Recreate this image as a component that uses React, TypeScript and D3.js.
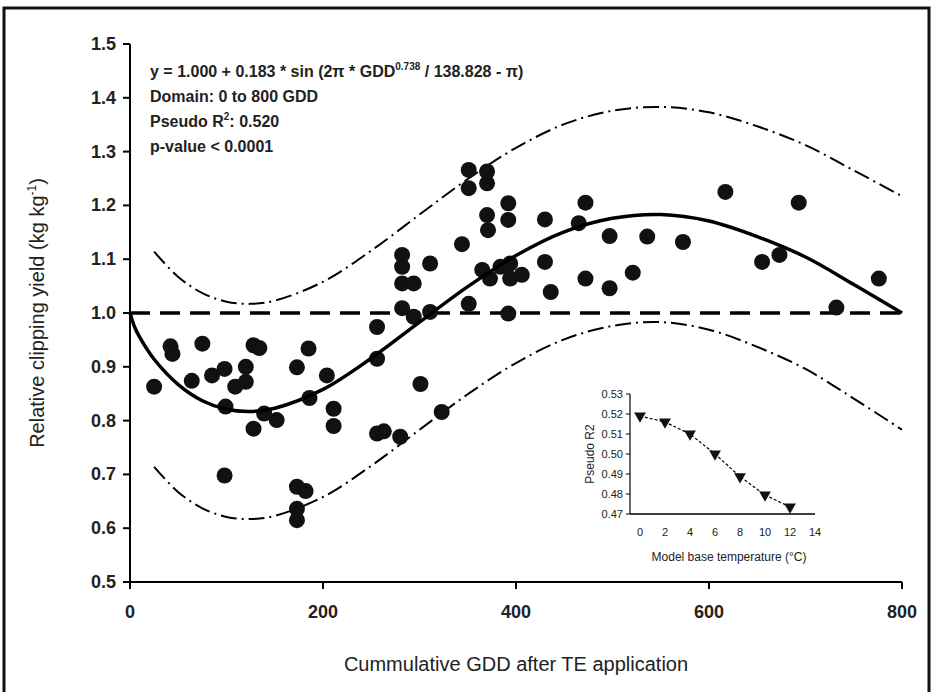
import React from "react";
import * as d3 from "d3";

// Scatter observations (GDD, relative clipping yield)
const obsGDD = [
  42, 44, 75, 128, 134, 185, 25, 64, 85, 98, 120, 109, 120, 173, 99, 128, 139, 152, 186, 204,
  256, 301, 211, 211, 256, 263, 280, 98, 173, 182, 173, 173, 323,
  282, 282, 282, 294, 311, 282, 294, 311, 256,
  351, 370, 351, 370, 392, 392, 370, 371, 430, 472, 344, 365, 384, 394, 394, 373, 406, 430,
  465, 497, 536, 573, 617, 693, 655, 673, 776, 732, 436, 472, 497, 521, 351, 392,
];
const obsYield = [
  0.938, 0.924, 0.943, 0.940, 0.935, 0.934, 0.863, 0.874, 0.884, 0.896, 0.900, 0.863, 0.872, 0.899, 0.826, 0.785, 0.813, 0.801, 0.842, 0.884,
  0.915, 0.868, 0.822, 0.790, 0.776, 0.780, 0.770, 0.698, 0.677, 0.669, 0.636, 0.615, 0.816,
  1.108, 1.086, 1.055, 1.055, 1.092, 1.009, 0.993, 1.002, 0.974,
  1.266, 1.263, 1.232, 1.241, 1.204, 1.173, 1.182, 1.154, 1.174, 1.205, 1.128, 1.080, 1.086, 1.092, 1.064, 1.064, 1.071, 1.095,
  1.167, 1.143, 1.142, 1.132, 1.225, 1.205, 1.095, 1.108, 1.064, 1.010, 1.039, 1.064, 1.046, 1.075, 1.017, 0.999,
];

// Fitted curve
const fitGDD = [0, 5, 10, 25, 50, 75, 100, 125, 150, 200, 250, 300, 350, 400, 450, 500, 550, 600, 650, 700, 750, 800];
const fitYield = [1.0, 0.973, 0.955, 0.914, 0.867, 0.837, 0.821, 0.817, 0.823, 0.858, 0.916, 0.983, 1.049, 1.107, 1.151, 1.176, 1.183, 1.171, 1.142, 1.104, 1.053, 1.0];

// Prediction bands
const bandGDD = [25, 50, 75, 100, 125, 150, 200, 250, 300, 350, 400, 450, 500, 550, 600, 650, 700, 750, 800];
const bandUpper = [1.114, 1.067, 1.037, 1.021, 1.017, 1.023, 1.058, 1.116, 1.183, 1.249, 1.307, 1.351, 1.376, 1.383, 1.373, 1.347, 1.312, 1.265, 1.217];
const bandLower = [0.714, 0.667, 0.637, 0.621, 0.617, 0.623, 0.658, 0.716, 0.783, 0.849, 0.907, 0.951, 0.976, 0.983, 0.969, 0.937, 0.896, 0.841, 0.783];

// Axis ticks
const xTicks = [0, 200, 400, 600, 800];
const yTicks = [0.5, 0.6, 0.7, 0.8, 0.9, 1.0, 1.1, 1.2, 1.3, 1.4, 1.5];

// Inset data
const baseTemp = [0, 2, 4, 6, 8, 10, 12];
const pseudoR2 = [0.519, 0.516, 0.51, 0.5, 0.4887, 0.4795, 0.4735];
const insetXTicks = [0, 2, 4, 6, 8, 10, 12, 14];
const insetYTicks = [0.47, 0.48, 0.49, 0.5, 0.51, 0.52, 0.53];

const FONT = "'Liberation Sans', Arial, Helvetica, sans-serif";

export default function App() {
  const x = d3.scaleLinear().domain([0, 800]).range([130, 902]);
  const y = d3.scaleLinear().domain([0.5, 1.5]).range([582, 44]);

  const lineGen = d3
    .line<[number, number]>()
    .x((d) => x(d[0]))
    .y((d) => y(d[1]))
    .curve(d3.curveCatmullRom.alpha(0.5));

  const fitPath = lineGen(fitGDD.map((g, i) => [g, fitYield[i]] as [number, number])) || "";
  const upperPath = lineGen(bandGDD.map((g, i) => [g, bandUpper[i]] as [number, number])) || "";
  const lowerPath = lineGen(bandGDD.map((g, i) => [g, bandLower[i]] as [number, number])) || "";

  const ix = d3.scaleLinear().domain([0, 14]).range([640, 815]);
  const iy = d3.scaleLinear().domain([0.47, 0.53]).range([514, 394]);
  const insetLine =
    d3
      .line<number>()
      .x((_, i) => ix(baseTemp[i]))
      .y((d) => iy(d))(pseudoR2) || "";

  const tri = d3.symbol().type(d3.symbolTriangle).size(60)() || "";

  return (
    <svg
      width={935}
      height={692}
      style={{ position: "absolute", left: 0, top: 0, background: "#fff" }}
      fontFamily={FONT}
    >
      <rect x={0} y={0} width={935} height={692} fill="#fff" />
      {/* outer frame */}
      <rect x={4} y={8} width={925} height={700} fill="none" stroke="#111" strokeWidth={3} />

      {/* bands */}
      <path d={upperPath} fill="none" stroke="#000" strokeWidth={2} strokeDasharray="16,5,2,5" />
      <path d={lowerPath} fill="none" stroke="#000" strokeWidth={2} strokeDasharray="16,5,2,5" />

      {/* reference line */}
      <line x1={x(0)} x2={x(800)} y1={y(1)} y2={y(1)} stroke="#000" strokeWidth={3.5} strokeDasharray="20,10" />

      {/* points */}
      {obsGDD.map((g, i) => (
        <circle key={i} cx={x(g)} cy={y(obsYield[i])} r={8} fill="#111" />
      ))}

      {/* fit */}
      <path d={fitPath} fill="none" stroke="#000" strokeWidth={3.5} />

      {/* axes */}
      <line x1={130} x2={130} y1={y(0.5)} y2={y(1.5)} stroke="#000" strokeWidth={2} />
      <line x1={130} x2={902} y1={y(0.5)} y2={y(0.5)} stroke="#000" strokeWidth={2} />
      {yTicks.map((t) => (
        <g key={t}>
          <line x1={123} x2={130} y1={y(t)} y2={y(t)} stroke="#000" strokeWidth={2} />
          <text x={116} y={y(t) + 6} textAnchor="end" fontSize={18} fontWeight="bold" fill="#222">
            {t.toFixed(1)}
          </text>
        </g>
      ))}
      {xTicks.map((t) => (
        <g key={t}>
          <line x1={x(t)} x2={x(t)} y1={582} y2={589} stroke="#000" strokeWidth={2} />
          <text x={x(t)} y={618} textAnchor="middle" fontSize={18} fontWeight="bold" fill="#222">
            {t}
          </text>
        </g>
      ))}

      {/* axis titles */}
      <text
        transform={`translate(44,${y(1)}) rotate(-90)`}
        textAnchor="middle"
        fontSize={20}
        fill="#222"
      >
        Relative clipping yield (kg kg
        <tspan dy={-8} fontSize={12}>-1</tspan>
        <tspan dy={8}>)</tspan>
      </text>
      <text x={516} y={671} textAnchor="middle" fontSize={20} fill="#222">
        Cummulative GDD after TE application
      </text>

      {/* annotation */}
      <g fontSize={16} fontWeight="bold" fill="#222">
        <text x={150} y={77}>
          y = 1.000 + 0.183 * sin (2π * GDD
          <tspan dy={-7} fontSize={10}>0.738</tspan>
          <tspan dy={7}> / 138.828 - π)</tspan>
        </text>
        <text x={150} y={102}>Domain: 0 to 800 GDD</text>
        <text x={150} y={127}>
          Pseudo R<tspan dy={-7} fontSize={10}>2</tspan>
          <tspan dy={7}>: 0.520</tspan>
        </text>
        <text x={150} y={152}>p-value &lt; 0.0001</text>
      </g>

      {/* inset */}
      <g fill="#222">
        <line x1={630} x2={630} y1={iy(0.47)} y2={iy(0.53)} stroke="#000" strokeWidth={1.2} />
        <line x1={630} x2={815} y1={iy(0.47)} y2={iy(0.47)} stroke="#000" strokeWidth={1.5} />
        {insetYTicks.map((t) => (
          <g key={t}>
            <line x1={626} x2={630} y1={iy(t)} y2={iy(t)} stroke="#000" strokeWidth={1} />
            <text x={623} y={iy(t) + 4} textAnchor="end" fontSize={11}>
              {t.toFixed(2)}
            </text>
          </g>
        ))}
        {insetXTicks.map((t) => (
          <text key={t} x={ix(t)} y={536} textAnchor="middle" fontSize={11}>
            {t}
          </text>
        ))}
        <text transform={`translate(594,${iy(0.5)}) rotate(-90)`} textAnchor="middle" fontSize={12}>
          Pseudo R2
        </text>
        <text x={729} y={561} textAnchor="middle" fontSize={12}>
          Model base temperature (°C)
        </text>
        <path d={insetLine} fill="none" stroke="#000" strokeWidth={1.2} strokeDasharray="3,2" />
        {pseudoR2.map((v, i) => (
          <path
            key={i}
            d={tri}
            transform={`translate(${ix(baseTemp[i])},${iy(v)}) rotate(180)`}
            fill="#111"
          />
        ))}
      </g>
    </svg>
  );
}
